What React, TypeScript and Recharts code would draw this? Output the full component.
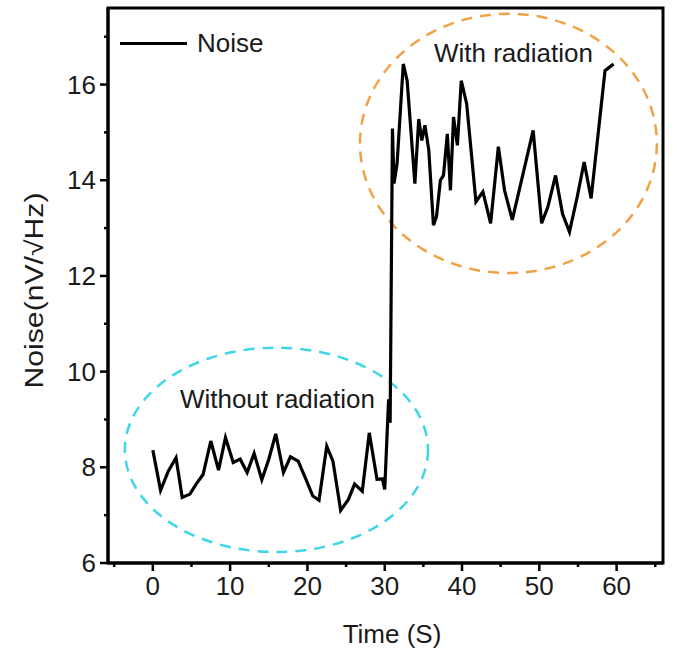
import React from 'react'
import {
  LineChart,
  Line,
  XAxis,
  YAxis,
  ReferenceArea,
} from 'recharts'

const timeValues = [
  0, 1.0, 2.0, 3.0, 3.8, 4.8, 5.6, 6.5, 7.5, 8.5, 9.4, 10.4, 11.3, 12.2, 13.1,
  14.1, 15.0, 15.9, 16.9, 17.8, 18.8, 19.7, 20.7, 21.5, 22.5, 23.3, 24.3, 25.3,
  26.1, 27.1, 28.0, 29.0, 29.7, 30.0, 30.5, 30.7, 31.0, 31.2, 31.6, 32.4, 32.9,
  33.9, 34.4, 34.8, 35.2, 35.7, 36.3, 36.7, 37.2, 37.6, 38.1, 38.5, 38.9, 39.4,
  39.9, 40.6, 41.8, 42.7, 43.7, 44.7, 45.5, 46.5, 47.9, 49.2, 50.3, 51.1, 52.1,
  53.0, 53.9, 54.9, 55.8, 56.7, 58.5, 59.6,
]

const noiseValues = [
  8.36, 7.52, 7.92, 8.2, 7.37, 7.44, 7.65, 7.85, 8.55, 7.94, 8.62, 8.1, 8.17,
  7.89, 8.29, 7.74, 8.17, 8.7, 7.89, 8.22, 8.13, 7.79, 7.4, 7.31, 8.44, 8.13,
  7.1, 7.33, 7.65, 7.5, 8.72, 7.75, 7.76, 7.54, 9.42, 8.93, 15.08, 13.93, 14.35,
  16.43, 16.08, 13.93, 15.28, 14.83, 15.15, 14.63, 13.06, 13.24, 14.0, 14.1,
  14.97, 13.79, 15.32, 14.73, 16.08, 15.6, 13.55, 13.76, 13.1, 14.7, 13.79,
  13.17, 14.14, 15.04, 13.1, 13.44, 14.1, 13.3, 12.92, 13.65, 14.38, 13.62,
  16.29, 16.43,
]

const xTicks = [-5, 0, 5, 10, 15, 20, 25, 30, 35, 40, 45, 50, 55, 60, 65]
const yTicks = [6, 7, 8, 9, 10, 11, 12, 13, 14, 15, 16, 17]

const X_DOMAIN: [number, number] = [-5.8, 66]
const Y_DOMAIN: [number, number] = [6, 17.6]

const data = timeValues.map((t, i) => ({ time: t, noise: noiseValues[i] }))

const FONT = '"Liberation Sans", Arial, sans-serif'
const TEXT = '#1a1a1a'

function XTick({ x, y, payload }: any) {
  const major = payload.value % 10 === 0
  return (
    <g>
      <line x1={x} x2={x} y1={y} y2={y + (major ? 8 : 4)} stroke="#000" strokeWidth={2.5} />
      {major && (
        <text x={x} y={y + 32} textAnchor="middle" fontSize={26} fontFamily={FONT} fill={TEXT}>
          {payload.value}
        </text>
      )}
    </g>
  )
}

function YTick({ x, y, payload }: any) {
  const major = payload.value % 2 === 0
  return (
    <g>
      <line x1={x - (major ? 8 : 4)} x2={x} y1={y} y2={y} stroke="#000" strokeWidth={2.5} />
      {major && (
        <text x={x - 12} y={y + 9} textAnchor="end" fontSize={26} fontFamily={FONT} fill={TEXT}>
          {payload.value}
        </text>
      )}
    </g>
  )
}

// dashed ellipse inscribed in a reference area, with its caption
function ellipseShape(color: string, caption: string, dx: number, dy: number) {
  return (props: any) => {
    const { x, y, width, height } = props
    return (
      <g>
        <ellipse
          cx={x + width / 2}
          cy={y + height / 2}
          rx={width / 2}
          ry={height / 2}
          fill="none"
          stroke={color}
          strokeWidth={2.5}
          strokeDasharray="11 8"
        />
        <text
          x={x + width / 2 + dx}
          y={y + dy}
          textAnchor="middle"
          fontSize={26}
          fontFamily={FONT}
          fill={TEXT}
        >
          {caption}
        </text>
      </g>
    )
  }
}

export default function App() {
  return (
    <div style={{ position: 'absolute', left: 0, top: 0, width: 677, height: 651, background: '#fff' }}>
      <LineChart
        width={677}
        height={651}
        data={data}
        margin={{ top: 8, right: 14, bottom: 28, left: 0 }}
      >
        <XAxis
          dataKey="time"
          type="number"
          domain={X_DOMAIN}
          ticks={xTicks}
          allowDataOverflow
          height={60}
          tickSize={0}
          tickMargin={0}
          tickLine={false}
          tick={<XTick />}
          axisLine={{ stroke: '#000', strokeWidth: 3 }}
          label={(p: any) => {
            const vb = p.viewBox
            return (
              <text x={vb.x + 284} y={vb.y + 80} textAnchor="middle" fontSize={26} fontFamily={FONT} fill={TEXT}>
                Time (S)
              </text>
            )
          }}
        />
        <YAxis
          type="number"
          domain={Y_DOMAIN}
          ticks={yTicks}
          allowDataOverflow
          width={108}
          tickSize={0}
          tickMargin={0}
          tickLine={false}
          tick={<YTick />}
          axisLine={{ stroke: '#000', strokeWidth: 3 }}
          label={(p: any) => {
            const vb = p.viewBox
            return (
              <text
                transform={`translate(${vb.x + 43}, ${vb.y + vb.height / 2 + 5}) rotate(-90)`}
                textAnchor="middle"
                fontSize={25}
                fontFamily={FONT}
                fill={TEXT}
                textLength={196}
                lengthAdjust="spacingAndGlyphs"
              >
                Noise(nV/√Hz)
              </text>
            )
          }}
        />
        <ReferenceArea
          x1={X_DOMAIN[0]}
          x2={X_DOMAIN[1]}
          y1={Y_DOMAIN[0]}
          y2={Y_DOMAIN[1]}
          ifOverflow="visible"
          fill="none"
          stroke="#000"
          strokeWidth={3}
          fillOpacity={0}
        />
        <ReferenceArea
          x1={-3.62}
          x2={35.6}
          y1={6.23}
          y2={10.5}
          ifOverflow="visible"
          shape={ellipseShape('#3fd6e8', 'Without radiation', 1, 60)}
        />
        <ReferenceArea
          x1={26.8}
          x2={65.2}
          y1={12.06}
          y2={17.48}
          ifOverflow="visible"
          shape={ellipseShape('#f2a246', 'With radiation', 5, 48)}
        />
        <Line
          dataKey="noise"
          type="linear"
          stroke="#000"
          strokeWidth={3.2}
          dot={false}
          isAnimationActive={false}
        />
      </LineChart>
      {/* legend */}
      <div style={{ position: 'absolute', left: 120, top: 28, display: 'flex', alignItems: 'center', fontFamily: FONT, fontSize: 26, color: TEXT }}>
        <div style={{ width: 67, height: 3, background: '#000', marginRight: 10 }} />
        <span>Noise</span>
      </div>
    </div>
  )
}
